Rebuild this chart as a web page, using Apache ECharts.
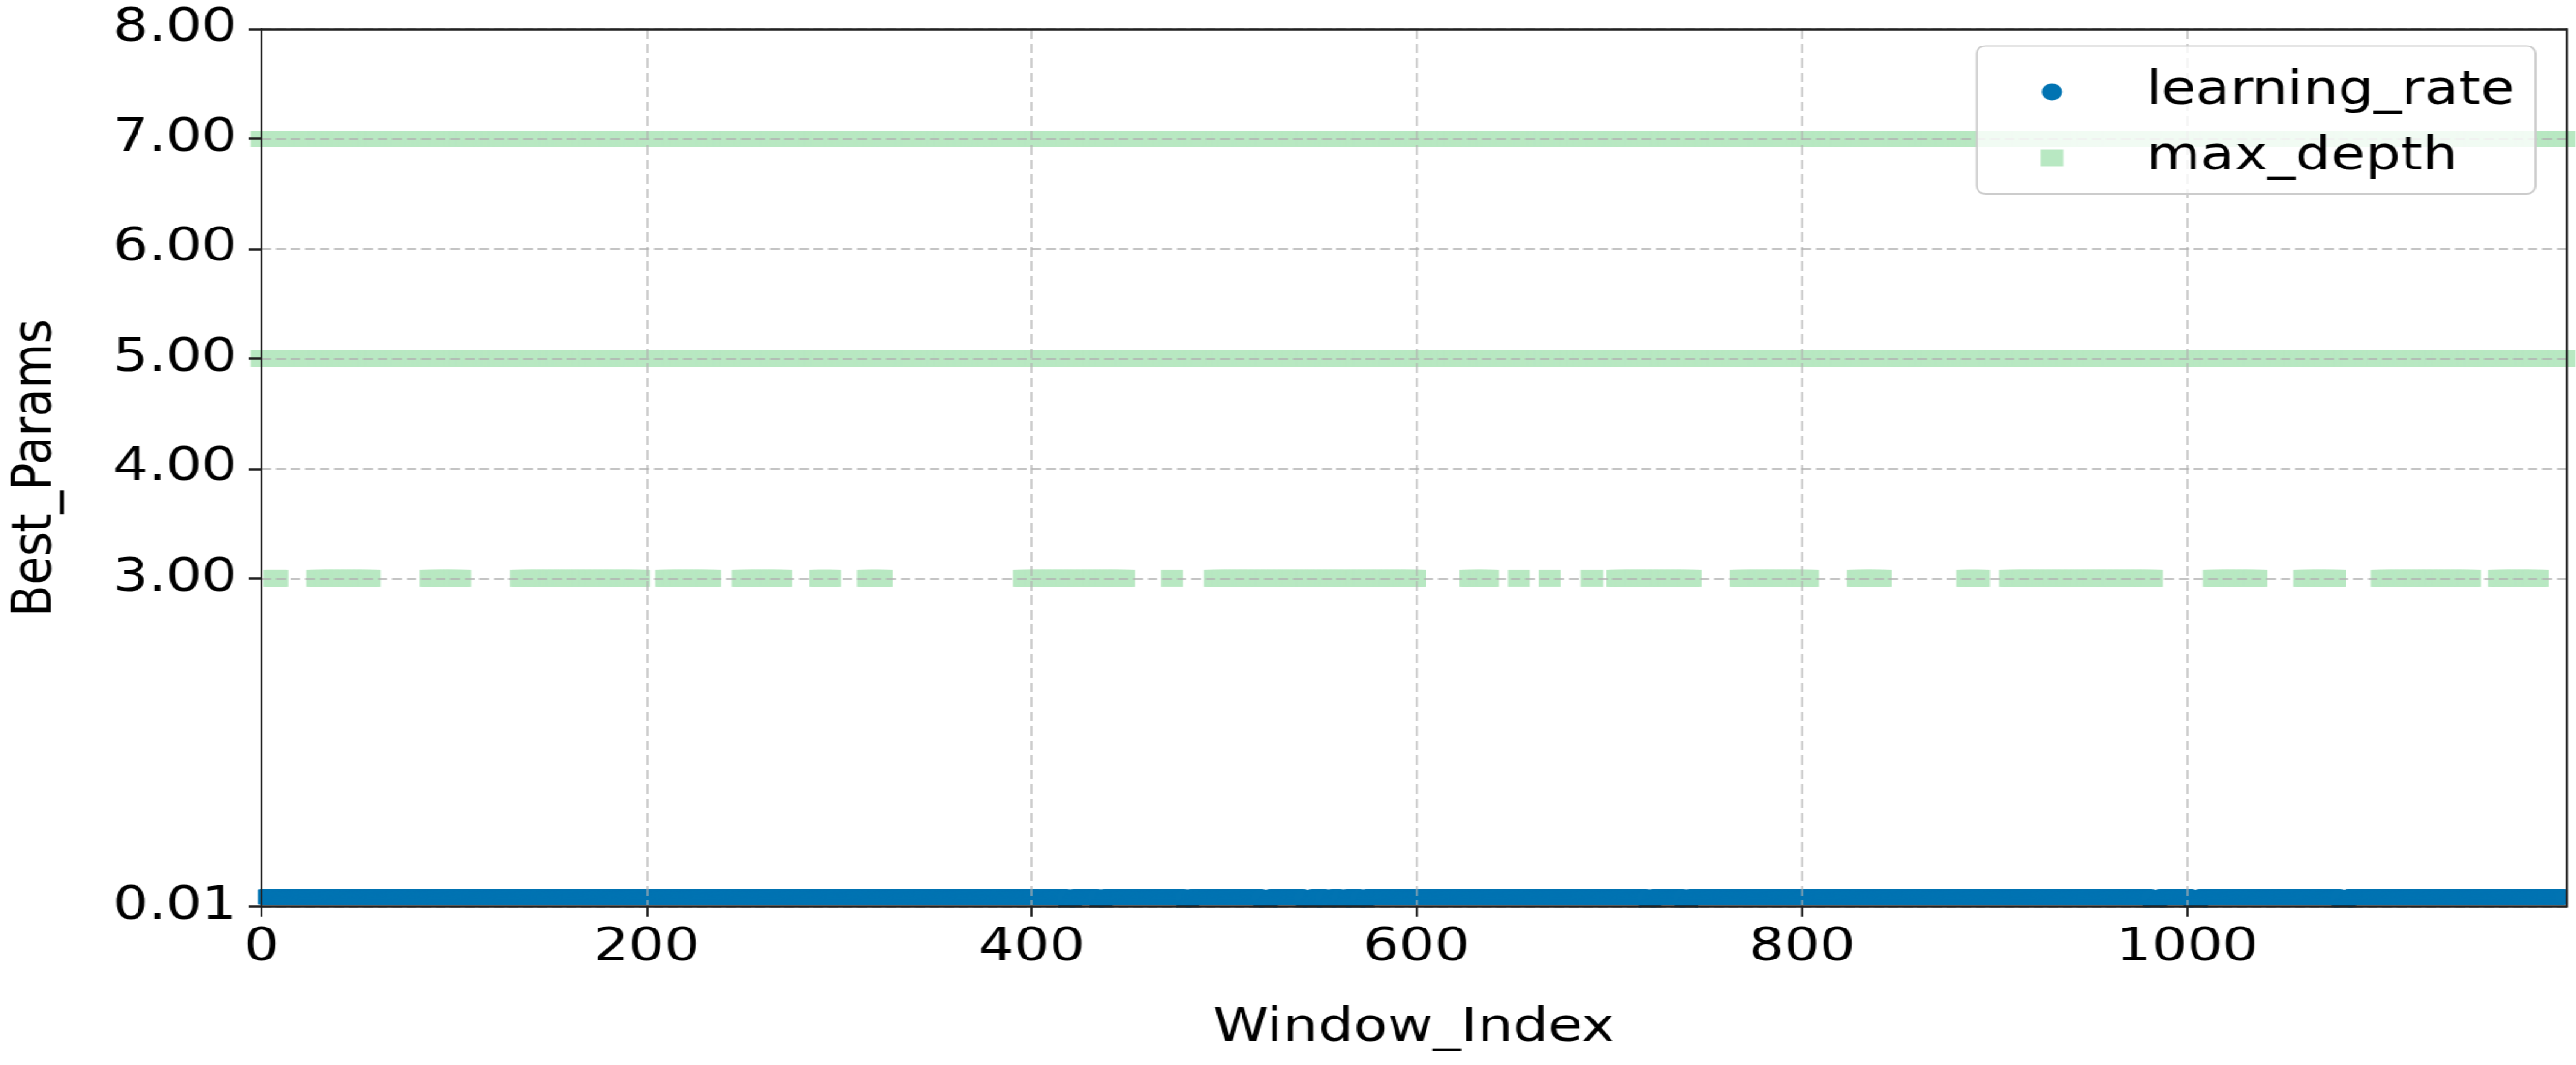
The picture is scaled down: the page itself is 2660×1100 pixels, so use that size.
<!DOCTYPE html>
<html>
<head>
<meta charset="utf-8">
<script src="https://cdn.jsdelivr.net/npm/echarts@6/dist/echarts.min.js"></script>
<style>
html, body { margin: 0; padding: 0; width: 2660px; height: 1100px; overflow: hidden; background: #ffffff; }
#chart { width: 2217px; height: 1100px; transform: scaleX(1.2); transform-origin: 0 0; }
</style>
</head>
<body>
<div id="chart"></div>
<script>
// ---------- data ----------
const xAxisMax = 1197;
const xTickValues = [0, 200, 400, 600, 800, 1000];
const yTickValues = [0.01, 3, 4, 5, 6, 7, 8];
const seriesNames = ['learning_rate', 'max_depth'];

// learning_rate: [firstWindow, lastWindow, value]
const learningRateRuns = [
  [0, 418, 0.1], [419, 421, 0.01], [422, 434, 0.1], [435, 437, 0.01], [438, 479, 0.1],
  [480, 482, 0.01], [483, 519, 0.1], [520, 523, 0.01], [524, 541, 0.1], [542, 545, 0.01],
  [546, 552, 0.1], [553, 555, 0.01], [556, 560, 0.1], [561, 563, 0.01], [564, 570, 0.1],
  [571, 573, 0.01], [574, 719, 0.1], [720, 722, 0.01], [723, 738, 0.1], [739, 741, 0.01],
  [742, 981, 0.1], [982, 985, 0.01], [986, 1002, 0.1], [1003, 1006, 0.01], [1007, 1079, 0.1],
  [1080, 1083, 0.01], [1084, 1196, 0.1]
];

// max_depth: windows [first, last] where each depth value appears
const maxDepth3Runs = [
  [7, 8], [29, 56], [88, 103], [135, 196], [210, 233], [250, 270], [290, 295], [315, 322],
  [396, 448], [473, 473], [495, 599], [628, 637], [653, 653], [669, 669], [691, 691],
  [704, 742], [768, 803], [829, 841], [886, 892], [908, 982], [1014, 1036], [1061, 1077],
  [1101, 1147], [1162, 1182]
];
const maxDepth5Runs = [[0, 1196]];
const maxDepth7Runs = [[0, 1196]];

// ---------- build point tables ----------
function expandValueRuns(runs) {
  const pts = [];
  runs.forEach(function (r) { for (let i = r[0]; i <= r[1]; i++) pts.push([i, r[2]]); });
  return pts;
}
function expandRuns(runs, value) {
  const pts = [];
  runs.forEach(function (r) { for (let i = r[0]; i <= r[1]; i++) pts.push([i, value]); });
  return pts;
}
const learningRatePoints = expandValueRuns(learningRateRuns);
const maxDepthPoints = [].concat(
  expandRuns(maxDepth7Runs, 7),
  expandRuns(maxDepth5Runs, 5),
  expandRuns(maxDepth3Runs, 3)
);

// ---------- chart ----------
const S = 1.2; // horizontal stretch applied by CSS
const W = 2217;
const FONT = 'DejaVu Sans';
const AXIS_COLOR = '#222222';
const GRID_COLOR = 'rgba(176,176,176,0.75)';
const BLUE = '#0173b2';
const GREEN = '#b8e8c2';
const PLOT_L = 267 / S, PLOT_R = 2650 / S, PLOT_T = 30, PLOT_B = 936.7;

const chart = echarts.init(document.getElementById('chart'), null, { renderer: 'canvas' });

// white masks outside the plotting area, emulating marker clipping at the axes frame
const masks = [
  { x: 0, y: 0, width: PLOT_L - 0.8, height: 1100 },
  { x: PLOT_R + 0.8, y: 0, width: W - PLOT_R, height: 1100 },
  { x: 0, y: PLOT_B + 1, width: W, height: 1100 - PLOT_B },
  { x: 0, y: 0, width: W, height: PLOT_T - 1 }
].map(function (s) {
  return { type: 'rect', shape: s, style: { fill: '#ffffff' }, z: 2, silent: true };
});

const option = {
  animation: false,
  backgroundColor: '#ffffff',
  textStyle: { fontFamily: FONT },
  grid: { left: PLOT_L, right: W - PLOT_R, top: PLOT_T, bottom: 1100 - PLOT_B, containLabel: false },
  graphic: masks,
  legend: {
    orient: 'vertical',
    left: 2041 / S,
    top: 47.5,
    padding: [22.5, 18, 12, 55.5],
    itemWidth: 19,
    itemHeight: 17,
    itemGap: 18,
    backgroundColor: 'rgba(255,255,255,0.8)',
    borderColor: '#cccccc',
    borderWidth: 2,
    borderRadius: 8,
    data: [
      { name: seriesNames[0], icon: 'circle' },
      { name: seriesNames[1], icon: 'rect' }
    ],
    formatter: function (name) { return '{g|}' + name; },
    textStyle: {
      fontFamily: FONT, fontSize: 48, color: '#000000', lineHeight: 50,
      rich: { g: { width: 66.4 } }
    },
    z: 10
  },
  xAxis: [
    {
      type: 'value', position: 'bottom', min: 0, max: xAxisMax, z: 3,
      name: 'Window_Index', nameLocation: 'middle', nameGap: 102,
      nameTextStyle: { fontFamily: FONT, fontSize: 48, color: '#000000' },
      axisLine: { show: true, onZero: false, lineStyle: { color: AXIS_COLOR, width: 2.5 } },
      axisTick: { show: true, customValues: xTickValues, length: 10, lineStyle: { color: AXIS_COLOR, width: 2 } },
      axisLabel: {
        show: true, customValues: xTickValues, margin: 19, fontFamily: FONT, fontSize: 48, color: '#000000',
        formatter: function (v) { return String(Math.round(v)); }
      },
      splitLine: { show: true, lineStyle: { color: GRID_COLOR, width: 1.7, type: [10, 5] } }
    },
    {
      type: 'value', position: 'top', min: 0, max: xAxisMax, z: 3,
      axisLine: { show: true, onZero: false, lineStyle: { color: AXIS_COLOR, width: 2.5 } },
      axisTick: { show: false }, axisLabel: { show: false }, splitLine: { show: false }
    }
  ],
  yAxis: [
    {
      type: 'value', position: 'left', min: 0.01, max: 8, z: 3,
      name: 'Best_Params', nameLocation: 'middle', nameGap: 169,
      nameTextStyle: { fontFamily: FONT, fontSize: 48, color: '#000000' },
      axisLine: { show: true, onZero: false, lineStyle: { color: AXIS_COLOR, width: 2 } },
      axisTick: { show: true, customValues: yTickValues, length: 11, lineStyle: { color: AXIS_COLOR, width: 2.5 } },
      axisLabel: {
        show: true, customValues: yTickValues, margin: 21, fontFamily: FONT, fontSize: 48, color: '#000000',
        formatter: function (v) { return Number(v).toFixed(2); }
      },
      splitLine: { show: true, lineStyle: { color: GRID_COLOR, width: 2, type: [8.3, 4.2] } }
    },
    {
      type: 'value', position: 'right', min: 0.01, max: 8, z: 3,
      axisLine: { show: true, onZero: false, lineStyle: { color: AXIS_COLOR, width: 2 } },
      axisTick: { show: false }, axisLabel: { show: false }, splitLine: { show: false }
    }
  ],
  series: [
    {
      name: seriesNames[0], type: 'scatter', xAxisIndex: 0, yAxisIndex: 0,
      symbol: 'circle', symbolSize: 17, clip: false,
      itemStyle: { color: BLUE, opacity: 1 },
      data: learningRatePoints, z: 1
    },
    {
      name: seriesNames[1], type: 'scatter', xAxisIndex: 0, yAxisIndex: 0,
      symbol: 'rect', symbolSize: [19, 17], clip: false,
      itemStyle: { color: GREEN, opacity: 1 },
      data: maxDepthPoints, z: 1
    }
  ]
};
chart.setOption(option);
</script>
</body>
</html>
